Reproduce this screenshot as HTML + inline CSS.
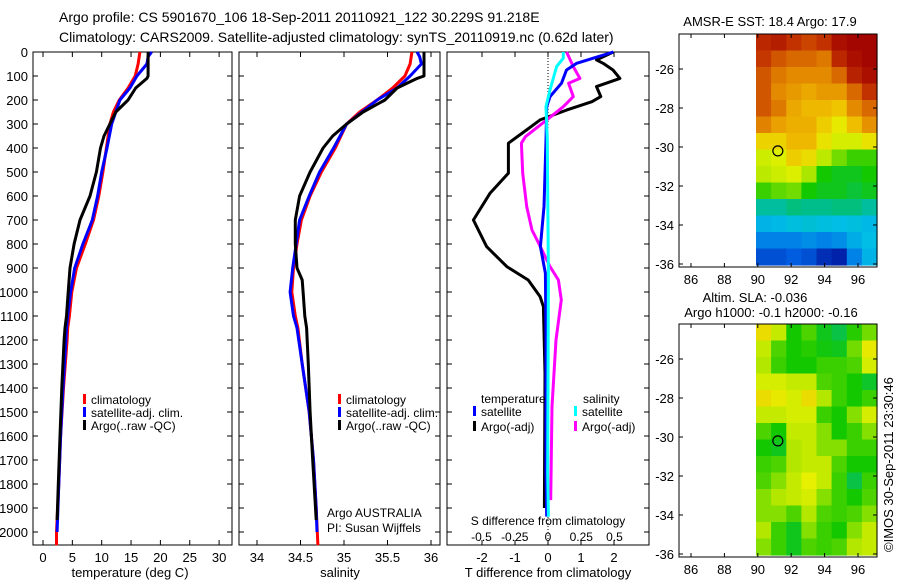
<!DOCTYPE html>
<html><head><meta charset="utf-8"><style>
html,body{margin:0;padding:0;background:#fff}
svg{display:block;font-family:"Liberation Sans",sans-serif}
</style></head><body>
<svg id="c" width="900" height="580" viewBox="0 0 900 580"></svg>
<script>
// ---------- data ----------
const depthTicks=[0,100,200,300,400,500,600,700,800,900,1000,1100,1200,1300,1400,1500,1600,1700,1800,1900,2000];
const tempTicks=[0,5,10,15,20,25,30];
const salTicks=[34,34.5,35,35.5,36];
const salTickLabels=["34","34.5","35","35.5","36"];
const tdTicks=[-2,-1,0,1,2];
const sdTicks=[-0.5,-0.25,0,0.25,0.5];
const sdTickLabels=["-0.5","-0.25","0","0.25","0.5"];
// temperature profiles [depth, value]
const tempArgo=[[0,17.9],[100,17.9],[110,17.7],[150,15.8],[200,14.5],[250,12.4],[300,11.4],[350,10.4],[400,9.8],[500,9.1],[600,8.0],[700,6.3],[800,5.3],[900,4.6],[1000,4.3],[1100,4.0],[1150,3.75],[1200,3.6],[1400,3.2],[1600,2.9],[1800,2.6],[1950,2.4]];
const tempClim=[[0,16.5],[50,16.2],[100,15.7],[150,14.5],[200,13.0],[250,12.0],[300,11.4],[400,10.8],[500,10.2],[600,9.5],[700,8.6],[800,7.2],[900,5.7],[1000,4.9],[1100,4.5],[1150,4.2],[1200,4.1],[1400,3.5],[1600,3.0],[1800,2.7],[2000,2.3],[2055,2.3]];
const tempSat=[[0,18.5],[20,17.9],[50,17.7],[100,16.0],[150,14.8],[200,13.1],[300,11.7],[400,10.9],[500,10.0],[600,9.3],[700,8.4],[800,6.8],[900,5.4],[1000,4.7],[1100,4.2],[1150,4.0],[1200,3.9],[1400,3.4],[1600,3.0],[1800,2.7],[2000,2.4]];
const salArgo=[[0,35.92],[100,35.92],[110,35.84],[150,35.61],[200,35.47],[250,35.22],[300,35.03],[350,34.87],[400,34.76],[500,34.61],[600,34.49],[700,34.44],[800,34.44],[900,34.46],[950,34.52],[1000,34.53],[1100,34.55],[1150,34.57],[1300,34.59],[1500,34.61],[1700,34.64],[1950,34.68]];
const salClim=[[0,35.78],[50,35.76],[100,35.70],[150,35.56],[200,35.38],[250,35.18],[300,35.03],[400,34.90],[500,34.74],[600,34.61],[700,34.51],[800,34.46],[900,34.42],[1000,34.40],[1100,34.44],[1150,34.47],[1300,34.52],[1500,34.6],[1700,34.65],[1900,34.68],[2055,34.7]];
const salSat=[[0,35.84],[20,35.87],[50,35.89],[100,35.76],[150,35.61],[200,35.38],[300,35.03],[400,34.88],[500,34.72],[600,34.60],[700,34.49],[800,34.45],[900,34.41],[1000,34.38],[1100,34.42],[1150,34.46],[1300,34.52],[1500,34.6],[1700,34.65],[1900,34.68],[2000,34.69]];
const tdArgo=[[0,1.98],[33,1.47],[47,1.67],[75,1.97],[110,2.18],[144,1.47],[186,1.6],[207,1.33],[242,0.56],[283,-0.24],[325,-0.65],[380,-1.2],[505,-1.2],[589,-1.76],[700,-2.26],[811,-1.86],[894,-1.25],[950,-0.6],[1019,-0.24],[1061,-0.14],[1339,-0.09],[1900,-0.11]];
const tdSat=[[0,1.98],[26,1.37],[47,0.87],[75,0.56],[130,0.41],[186,0.06],[228,-0.04],[367,-0.06],[644,-0.12],[811,-0.23],[922,-0.08],[1200,-0.06],[1756,-0.06],[1936,-0.04]];
const sdSat=[[0,0.115],[26,0.115],[61,0.065],[158,0.015],[228,-0.015],[367,-0.005],[922,0.003],[1756,-0.002],[1936,0.003]];
const sdArgo=[[0,0.14],[61,0.19],[110,0.24],[130,0.155],[186,0.19],[228,0.115],[283,-0.01],[353,-0.17],[380,-0.2],[505,-0.19],[644,-0.16],[742,-0.12],[797,-0.07],[894,0.015],[950,0.078],[1033,0.1],[1200,0.06],[1478,0.03],[1867,0.02]];
// maps (normalized colormap values, rows north->south)
const mapLonTicks=[86,88,90,92,94,96];
const mapLatTicks=[-26,-28,-30,-32,-34,-36];
const sstGrid=[
[0.92,0.94,0.9,0.87,0.9,0.97,0.99,0.99],
[0.89,0.85,0.83,0.83,0.81,0.92,0.97,0.99],
[0.85,0.81,0.79,0.79,0.79,0.83,0.93,0.97],
[0.85,0.79,0.77,0.75,0.77,0.77,0.83,0.9],
[0.85,0.81,0.75,0.73,0.73,0.71,0.79,0.83],
[0.8,0.76,0.74,0.74,0.7,0.66,0.72,0.78],
[0.69,0.69,0.73,0.73,0.67,0.63,0.63,0.67],
[0.62,0.64,0.7,0.68,0.6,0.55,0.52,0.52],
[0.6,0.62,0.64,0.58,0.5,0.48,0.48,0.5],
[0.52,0.54,0.55,0.5,0.48,0.48,0.46,0.48],
[0.38,0.38,0.41,0.4,0.4,0.41,0.41,0.38],
[0.28,0.29,0.31,0.32,0.31,0.3,0.31,0.29],
[0.2,0.2,0.2,0.22,0.2,0.22,0.27,0.3],
[0.12,0.12,0.14,0.12,0.07,0.05,0.2,0.28]];
const slaGrid=[
[0.68,0.61,0.5,0.53,0.48,0.45,0.51,0.55],
[0.61,0.53,0.5,0.51,0.49,0.48,0.55,0.66],
[0.59,0.52,0.5,0.5,0.52,0.52,0.53,0.63],
[0.63,0.63,0.61,0.61,0.53,0.52,0.5,0.47],
[0.68,0.66,0.63,0.68,0.59,0.52,0.5,0.52],
[0.61,0.61,0.63,0.63,0.52,0.5,0.56,0.63],
[0.53,0.5,0.61,0.61,0.56,0.5,0.52,0.56],
[0.5,0.48,0.59,0.61,0.56,0.56,0.52,0.52],
[0.52,0.53,0.59,0.61,0.61,0.53,0.5,0.5],
[0.53,0.56,0.61,0.65,0.61,0.52,0.45,0.52],
[0.56,0.59,0.61,0.63,0.56,0.52,0.5,0.53],
[0.56,0.56,0.53,0.59,0.53,0.52,0.53,0.56],
[0.59,0.52,0.48,0.56,0.52,0.5,0.56,0.61],
[0.56,0.52,0.48,0.53,0.52,0.53,0.59,0.61]];
const argoLon=91.2, argoLat=-30.2;

// ---------- helpers ----------
const svg=document.getElementById('c');
const NS='http://www.w3.org/2000/svg';
function mk(tag,attrs,parent){const e=document.createElementNS(NS,tag);for(const k in attrs)e.setAttribute(k,attrs[k]);(parent||svg).appendChild(e);return e;}
function txt(s,x,y,anchor,size,parent){const t=mk('text',{x:x,y:y,'text-anchor':anchor||'start','font-size':size||13,fill:'#000'},parent);t.textContent=s;return t;}
const Y0=52,Y1=545;
const yD=d=>Y0+d*0.24;
const xT=v=>43+v*5.87;
const xS=v=>257+(v-34)*87;
const xTD=v=>548+v*33;
const xSD=v=>548+v*133;

function panel(name,x0,x1){
  const g=mk('g',{});
  
  
  mk('rect',{x:x0,y:Y0,width:x1-x0,height:Y1-Y0,fill:'none',stroke:'#000','stroke-width':1},g);
  depthTicks.forEach(d=>{mk('line',{x1:x0,x2:x0+5,y1:yD(d),y2:yD(d),stroke:'#000'},g);mk('line',{x1:x1,x2:x1-5,y1:yD(d),y2:yD(d),stroke:'#000'},g);});
  return g;
}
function xticks(g,vals,labels,fx,ly){
  vals.forEach((v,i)=>{const x=fx(v);mk('line',{x1:x,x2:x,y1:Y1,y2:Y1-5,stroke:'#000'},g);mk('line',{x1:x,x2:x,y1:Y0,y2:Y0+5,stroke:'#000'},g);
    const t=txt(labels?labels[i]:String(v),x,ly,'middle',13,g);});
}
function line(g,data,fx,color,name){
  const p=data.map((d,i)=>(i?'L':'M')+fx(d[1]).toFixed(1)+','+yD(d[0]).toFixed(1)).join('');
  const e=mk('path',{d:p,fill:'none',stroke:color,'stroke-width':3,'stroke-linejoin':'round'},g);
  
  
}
function legendEntry(g,x,y,color,label){
  const r=mk('rect',{x:x,y:y-10,width:3,height:10,fill:color},g);
  
  
  const t=txt(label,x+8,y,'start',12,g);
  
  
}

// titles
let t=txt('Argo profile: CS 5901670_106 18-Sep-2011 20110921_122 30.229S 91.218E',59,22,'start',14);

t=txt('Climatology: CARS2009. Satellite-adjusted climatology: synTS_20110919.nc (0.62d later)',59,42,'start',14);


// panel 1 temperature
const p1=panel('temperature-panel',33,232);
depthTicks.forEach(d=>{const l=txt(String(d),28,yD(d)+5,'end',13,p1);});
xticks(p1,tempTicks,null,xT,562);
t=txt('temperature (deg C)',130,577,'middle',13,p1);
line(p1,tempClim,xT,'#ff0000','climatology-temp-line');
line(p1,tempSat,xT,'#0000ff','satellite-temp-line');
line(p1,tempArgo,xT,'#000000','argo-temp-line');
legendEntry(p1,83,404,'#ff0000','climatology');
legendEntry(p1,83,417,'#0000ff','satellite-adj. clim.');
legendEntry(p1,83,430,'#000000','Argo(..raw -QC)');

// panel 2 salinity
const p2=panel('salinity-panel',239,440);
xticks(p2,salTicks,salTickLabels,xS,562);
t=txt('salinity',340,577,'middle',13,p2);
line(p2,salClim,xS,'#ff0000','climatology-sal-line');
line(p2,salSat,xS,'#0000ff','satellite-sal-line');
line(p2,salArgo,xS,'#000000','argo-sal-line');
legendEntry(p2,338,404,'#ff0000','climatology');
legendEntry(p2,338,417,'#0000ff','satellite-adj. clim.');
legendEntry(p2,338,430,'#000000','Argo(..raw -QC)');
t=txt('Argo AUSTRALIA',327,517,'start',12,p2);
t=txt('PI: Susan Wijffels',327,532,'start',12,p2);

// panel 3 differences
const p3=panel('difference-panel',447,649);
xticks(p3,tdTicks,null,xTD,562);
sdTicks.forEach((v,i)=>{const l=txt(sdTickLabels[i],xSD(v),541,'middle',12,p3);});
t=txt('S difference from climatology',548,525,'middle',12,p3);
t=txt('T difference from climatology',548,577,'middle',13,p3);
mk('line',{x1:xTD(0),x2:xTD(0),y1:Y0,y2:Y1,stroke:'#000','stroke-width':1,'stroke-dasharray':'1,2'},p3);
line(p3,tdArgo,xTD,'#000000','argo-t-diff-line');
line(p3,sdArgo,xSD,'#ff00ff','argo-s-diff-line');
line(p3,tdSat,xTD,'#0000ff','satellite-t-diff-line');
line(p3,sdSat,xSD,'#00ffff','satellite-s-diff-line');
t=txt('temperature',481,403,'start',12,p3);
t=txt('salinity',583,403,'start',12,p3);
legendEntry(p3,473,416,'#0000ff','satellite');
legendEntry(p3,473,431,'#000000','Argo(-adj)');
legendEntry(p3,574,416,'#00ffff','satellite');
legendEntry(p3,574,431,'#ff00ff','Argo(-adj)');

// maps - custom colormap matching the reference palette
const cmapStops=[0,0.15,0.3,0.4,0.5,0.58,0.65,0.72,0.8,0.88,1];
const cmapR=[0,0,0,0,20,170,230,240,225,200,160];
const cmapG=[0,100,190,190,200,230,240,190,130,60,0];
const cmapB=[140,230,230,140,0,0,0,0,0,0,0];
function cmap(v){
  v=Math.max(0,Math.min(1,v));
  let i=0;while(i<cmapStops.length-2&&v>cmapStops[i+1])i++;
  const f=(v-cmapStops[i])/(cmapStops[i+1]-cmapStops[i]);
  const c=a=>Math.round(a[i]+(a[i+1]-a[i])*f);
  return 'rgb('+c(cmapR)+','+c(cmapG)+','+c(cmapB)+')';
}
const MX0=679,MX1=877;
const xLon=lon=>691+(lon-86)*16.7;
function mapPanel(name,top,grid,titles){
  const g=mk('g',{});
  
  
  const yLat=lat=>top+35+(-26-lat)*19.5;
  const h=233, cx0=756, cw=(MX1-cx0)/grid[0].length, ch=(h-2)/grid.length;
  grid.forEach((row,ri)=>row.forEach((v,ci)=>{
    const r=mk('rect',{x:(cx0+ci*cw).toFixed(1),y:(top+ri*ch).toFixed(1),width:(cw+0.6).toFixed(1),height:(ch+0.6).toFixed(1),fill:cmap(v)},g);
    
    
  }));
  mk('rect',{x:MX0,y:top,width:MX1-MX0,height:h,fill:'none',stroke:'#000'},g);
  mapLonTicks.forEach(l=>{const x=xLon(l);mk('line',{x1:x,x2:x,y1:top+h,y2:top+h-4,stroke:'#000'},g);mk('line',{x1:x,x2:x,y1:top,y2:top+4,stroke:'#000'},g);
    const tl=txt(String(l),x,top+h+17,'middle',13,g);});
  mapLatTicks.forEach(l=>{const y=yLat(l);mk('line',{x1:MX0,x2:MX0+4,y1:y,y2:y,stroke:'#000'},g);mk('line',{x1:MX1,x2:MX1-4,y1:y,y2:y,stroke:'#000'},g);
    const tl=txt(String(l),674,y+5,'end',13,g);});
  const c=mk('circle',{cx:xLon(argoLon),cy:yLat(argoLat),r:5,fill:'none',stroke:'#000','stroke-width':1.2},g);
  
  
  titles.forEach((s,i)=>{const tt=txt(s[0],s[1],s[2],'middle',13,g);});
}
mapPanel('sst-map',34,sstGrid,[['AMSR-E SST: 18.4  Argo: 17.9',770,26]]);
mapPanel('sla-map',324,slaGrid,[['Altim. SLA: -0.036',755,302],['Argo h1000: -0.1 h2000: -0.16',771,317]]);

t=txt('\u00a9IMOS 30-Sep-2011 23:30:46',0,0,'start',13);
t.setAttribute('transform','translate(893,552) rotate(-90)');


</script>
</body></html>
